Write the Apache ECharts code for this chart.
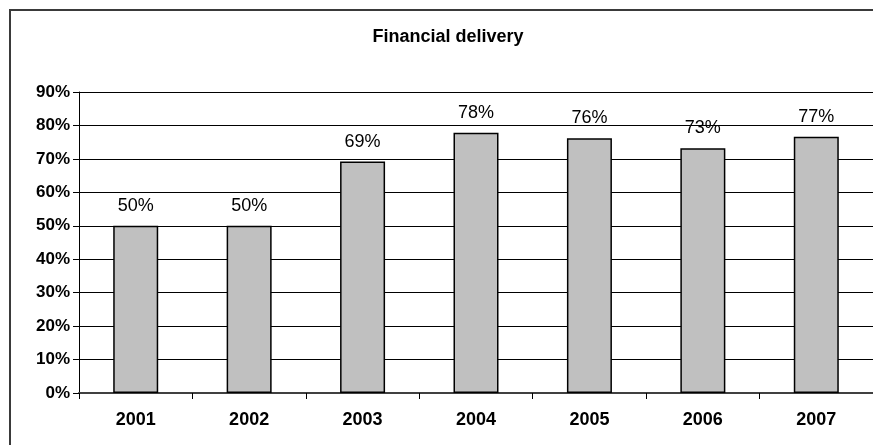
<!DOCTYPE html>
<html>
<head>
<meta charset="utf-8">
<script src="https://cdn.jsdelivr.net/npm/echarts@6/dist/echarts.min.js"></script>
<style>
  html, body { margin: 0; padding: 0; background: #fff; }
  #chart { width: 873px; height: 445px; }
</style>
</head>
<body>
<div id="chart"></div>
<script>
// Share of planned funds actually delivered, per year (percent)
const years = ['2001', '2002', '2003', '2004', '2005', '2006', '2007'];
const delivery = [50, 50, 69.2, 77.8, 76.2, 73.2, 76.6];
const yTicks = { min: 0, max: 90, step: 10 };
const chartTitle = 'Financial delivery';

const FONT = '"Liberation Sans", Arial, sans-serif';

const chart = echarts.init(document.getElementById('chart'), null, { renderer: 'canvas' });

chart.setOption({
  animation: false,
  backgroundColor: '#ffffff',
  graphic: [
    {
      type: 'rect',
      shape: { x: 10, y: 10, width: 900, height: 460 },
      style: { fill: 'none', stroke: '#3a3a3a', lineWidth: 2 },
      z: 0
    },
    {
      type: 'text',
      x: 448,
      y: 37,
      style: {
        text: chartTitle,
        fontFamily: FONT,
        fontWeight: 'bold',
        fontSize: 18,
        fill: '#000',
        align: 'center',
        verticalAlign: 'middle'
      },
      z: 10
    }
  ],
  grid: { left: 79, right: 0, top: 92, bottom: 52, containLabel: false },
  xAxis: {
    type: 'category',
    data: years,
    axisLine: { show: true, lineStyle: { color: '#404040', width: 2 } },
    axisTick: { show: true, length: 6, lineStyle: { color: '#000', width: 1 } },
    axisLabel: {
      margin: 18,
      fontFamily: FONT,
      fontWeight: 'bold',
      fontSize: 18,
      color: '#000'
    },
    splitLine: { show: false }
  },
  yAxis: {
    type: 'value',
    min: yTicks.min,
    max: yTicks.max,
    interval: yTicks.step,
    axisLine: { show: true, lineStyle: { color: '#000', width: 1 } },
    axisTick: { show: true, length: 6, lineStyle: { color: '#000', width: 1 } },
    axisLabel: {
      margin: 9,
      fontFamily: FONT,
      fontWeight: 'bold',
      fontSize: 17,
      color: '#000',
      formatter: v => Math.round(v) + '%'
    },
    splitLine: { show: true, lineStyle: { color: '#000', width: 1 } }
  },
  series: [
    {
      type: 'bar',
      data: delivery,
      barWidth: 45,
      itemStyle: { color: '#c0c0c0', borderColor: '#000', borderWidth: 1.5 },
      label: {
        show: true,
        position: 'top',
        distance: 11,
        fontFamily: FONT,
        fontSize: 18,
        color: '#000',
        formatter: p => Math.round(p.value) + '%'
      }
    }
  ]
});
</script>
</body>
</html>
